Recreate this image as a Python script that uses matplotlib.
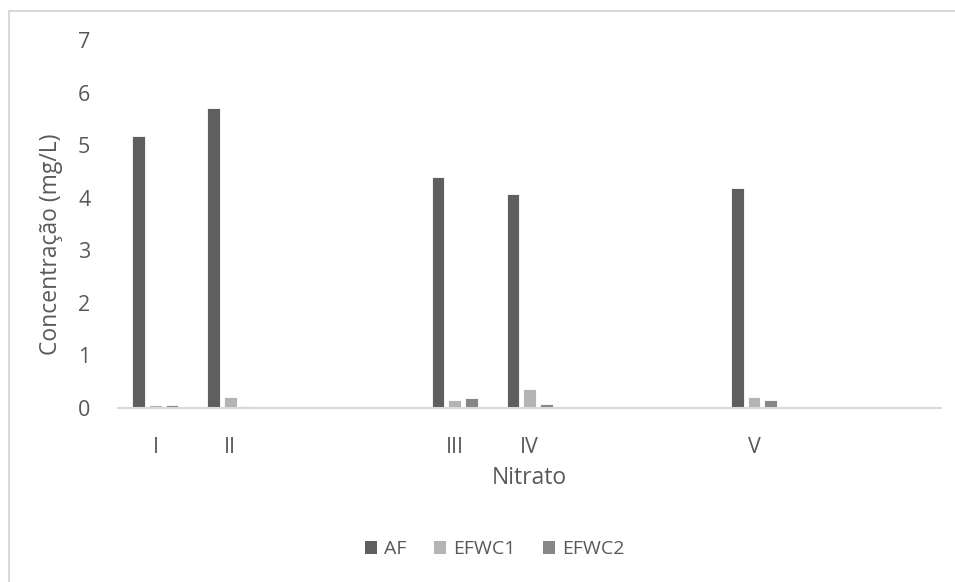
import matplotlib.pyplot as plt
import numpy as np
from matplotlib.lines import Line2D
from matplotlib.patches import Patch

plt.rcParams['font.family'] = ['Open Sans', 'DejaVu Sans']

# category axis (empty slots kept as blank categories, like the Excel sheet)
categories = ['I', 'II', '', '', 'III', 'IV', '', '', 'V', '', '']
nan = np.nan
af    = [5.17, 5.71, nan, nan, 4.40, 4.07, nan, nan, 4.18, nan, nan]
efwc1 = [0.06, 0.20, nan, nan, 0.16, 0.36, nan, nan, 0.21, nan, nan]
efwc2 = [0.06, 0.03, nan, nan, 0.19, 0.08, nan, nan, 0.16, nan, nan]

series = [('AF', af, '#5f5f5f'), ('EFWC1', efwc1, '#b4b4b4'), ('EFWC2', efwc2, '#878787')]
txt = '#595959'

fig = plt.figure(figsize=(9.55, 5.82), dpi=100)
ax = fig.add_axes([0.1236, 0.299, 0.8618, 0.6323])

x = np.arange(len(categories))
w = 0.17
step = 0.222
for i, (name, vals, col) in enumerate(series):
    ax.bar(x + (i - 1) * step, vals, width=w, color=col, edgecolor='white', linewidth=0.6, label=name)

ax.set_xlim(-0.5, len(categories) - 0.5)
ax.set_ylim(0, 7)
ax.set_yticks(range(0, 8))
ax.set_xticks(x)
ax.set_xticklabels(categories)
ax.tick_params(axis='both', length=0, labelsize=15.5, colors=txt)
ax.tick_params(axis='y', pad=20)
ax.tick_params(axis='x', pad=21)
for s in ['top', 'right', 'left']:
    ax.spines[s].set_visible(False)
ax.spines['bottom'].set_color('#d9d9d9')
ax.spines['bottom'].set_linewidth(1.5)

fig.text(0.0534, 1 - 244 / 582, 'Concentração (mg/L)', rotation=90, ha='center', va='center',
         fontsize=16.5, color=txt)
fig.text(0.5545, 1 - 478 / 582, 'Nitrato', ha='center', va='center', fontsize=16.5, color=txt)

handles = [Patch(facecolor=c, edgecolor='none') for _, _, c in series]
fig.legend(handles, [n for n, _, _ in series], loc='center', bbox_to_anchor=(0.518, 1 - 549 / 582),
           ncol=3, frameon=False, fontsize=14, labelcolor=txt, handlelength=0.65, handleheight=0.65,
           handletextpad=0.35, columnspacing=1.4)

# chart border (top and left visible in the crop)
fig.add_artist(Line2D([9 / 955, 1.0], [1 - 11 / 582, 1 - 11 / 582], color='#d9d9d9', linewidth=1.5))
fig.add_artist(Line2D([9 / 955, 9 / 955], [0, 1 - 11 / 582], color='#d9d9d9', linewidth=1.5))

fig.savefig('out.png', dpi=100, facecolor='white')
